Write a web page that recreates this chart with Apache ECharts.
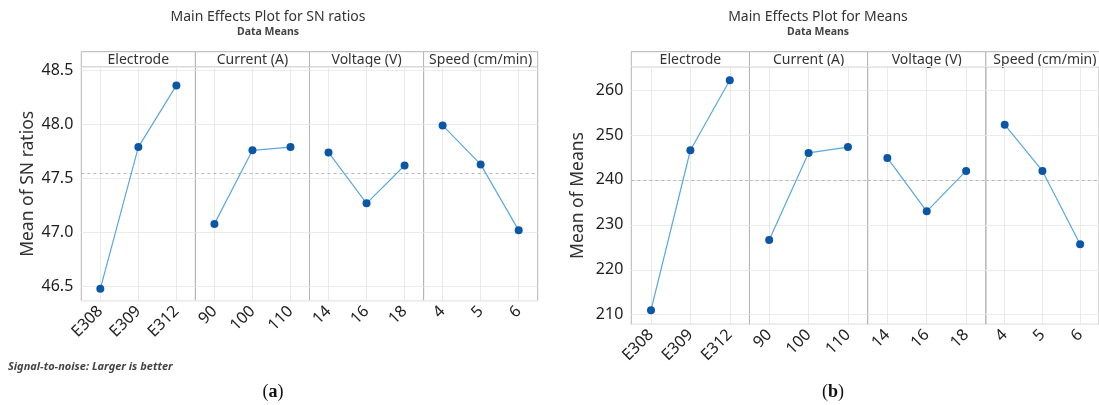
<!DOCTYPE html>
<html><head><meta charset="utf-8">
<script src="https://cdn.jsdelivr.net/npm/echarts@6/dist/echarts.min.js"></script>
<style>html,body{margin:0;padding:0;background:#fff}#c{width:1099px;height:405px}</style>
</head><body><div id="c"></div>
<script>
// ---- data ----
const factors = ['Electrode', 'Current (A)', 'Voltage (V)', 'Speed (cm/min)'];
const electrodeLevels = ['E308', 'E309', 'E312'];
const currentLevels = ['90', '100', '110'];
const voltageLevels = ['14', '16', '18'];
const speedLevels = ['4', '5', '6'];

const snElectrode = [46.48, 47.79, 48.36];
const snCurrent = [47.08, 47.76, 47.79];
const snVoltage = [47.74, 47.27, 47.62];
const snSpeed = [47.99, 47.63, 47.02];
const snGrandMean = 47.545;

const meanElectrode = [211.0, 246.6, 262.2];
const meanCurrent = [226.6, 246.0, 247.3];
const meanVoltage = [244.9, 233.0, 242.0];
const meanSpeed = [252.3, 242.0, 225.7];
const meansGrandMean = 240.0;

const snTickStep = 0.5;
const meansTickStep = 10;

// ---- layout ----
const FONT = '"Noto Sans", "Open Sans", sans-serif';
const levels = [electrodeLevels, currentLevels, voltageLevels, speedLevels];
const charts = [
  { x0: 81.3, x1: 537.7, top: 67, bottom: 300.7, min: 46.37, max: 48.53,
    values: [snElectrode, snCurrent, snVoltage, snSpeed], mean: snGrandMean,
    step: snTickStep, dec: 1, yName: 'Mean of SN ratios', nameGap: 44,
    title: 'Main Effects Plot for SN ratios', titleX: 268 },
  { x0: 631.3, x1: 1104, top: 66.7, bottom: 324.3, min: 207.86, max: 265.2,
    values: [meanElectrode, meanCurrent, meanVoltage, meanSpeed], mean: meansGrandMean,
    step: meansTickStep, dec: 0, yName: 'Mean of Means', nameGap: 44,
    title: 'Main Effects Plot for Means', titleX: 818 }
];
const headerTop = 51.7;

const grid = [], xAxis = [], yAxis = [], series = [], graphic = [];

charts.forEach((ch, c) => {
  const w = (ch.x1 - ch.x0) / 4;
  graphic.push({ type: 'text', style: { text: ch.title, x: ch.titleX, y: 17, align: 'center', verticalAlign: 'middle', font: '14px ' + FONT, fill: '#333' } });
  graphic.push({ type: 'text', style: { text: 'Data Means', x: ch.titleX, y: 32, align: 'center', verticalAlign: 'middle', font: 'bold 10.5px ' + FONT, fill: '#444' } });
  for (let p = 0; p < 4; p++) {
    const g = c * 4 + p;
    const left = ch.x0 + p * w;
    grid.push({ left: left, top: ch.top, width: w, height: ch.bottom - ch.top, show: true, borderColor: '#b4b4b4', borderWidth: 1, containLabel: false });
    graphic.push({ type: 'rect', shape: { x: left, y: headerTop, width: w, height: ch.top - headerTop }, style: { fill: '#fff', stroke: '#b4b4b4', lineWidth: 1 } });
    graphic.push({ type: 'text', style: { text: factors[p], x: left + w / 2, y: (headerTop + ch.top) / 2 + 0.5, align: 'center', verticalAlign: 'middle', font: '14px ' + FONT, fill: '#333' } });
    xAxis.push({ gridIndex: g, type: 'category', data: levels[p], boundaryGap: true,
      axisLine: { show: false }, axisTick: { show: false }, splitLine: { show: false },
      axisLabel: { interval: 0, rotate: 45, fontSize: 16, color: '#222', margin: 8, fontFamily: FONT } });
    const step = ch.step, dec = ch.dec;
    yAxis.push({ gridIndex: g, type: 'value', min: ch.min, max: ch.max, splitNumber: 5,
      axisLine: { show: false }, axisTick: { show: false },
      splitLine: { show: true, lineStyle: { color: '#ebebeb', width: 1 } },
      axisLabel: { show: p === 0, fontSize: 16, color: '#1e1e1e', margin: 8, fontFamily: FONT,
        formatter: v => (Math.abs(v / step - Math.round(v / step)) < 1e-6 ? v.toFixed(dec) : '') },
      name: p === 0 ? ch.yName : '', nameLocation: 'middle', nameGap: ch.nameGap, nameRotate: 90,
      nameTextStyle: { fontSize: 17.5, color: '#333', fontFamily: FONT } });
    const vals = ch.values[p];
    series.push({ type: 'line', xAxisIndex: g, yAxisIndex: g, data: vals, z: 1, silent: true,
      symbol: 'none', lineStyle: { opacity: 0 },
      markLine: { z: 1, silent: true, symbol: ['none', 'none'], label: { show: false }, animation: false,
        data: levels[p].map(l => ({ xAxis: l, lineStyle: { color: '#e9e9e9', type: 'solid', width: 1 } }))
          .concat([{ yAxis: ch.mean, lineStyle: { color: '#b9b9b9', type: [3, 3], width: 1 } }]) } });
    series.push({ type: 'line', xAxisIndex: g, yAxisIndex: g, data: vals, z: 10,
      symbol: 'circle', symbolSize: 8,
      itemStyle: { color: '#0b57a6', borderWidth: 0 },
      lineStyle: { color: '#5aa8df', width: 1.2 } });
  }
});

graphic.push({ type: 'text', style: { text: 'Signal-to-noise: Larger is better', x: 8, y: 367, align: 'left', verticalAlign: 'middle', font: 'italic bold 11px ' + FONT, fill: '#444' } });
graphic.push({ type: 'text', style: { text: '({b|a})', x: 273, y: 392, align: 'center', verticalAlign: 'middle', font: '18px "Liberation Serif", serif', fill: '#111', rich: { b: { fontWeight: 'bold', fontSize: 18, fontFamily: '"Liberation Serif", serif' } } } });
graphic.push({ type: 'text', style: { text: '({b|b})', x: 833, y: 392, align: 'center', verticalAlign: 'middle', font: '18px "Liberation Serif", serif', fill: '#111', rich: { b: { fontWeight: 'bold', fontSize: 18, fontFamily: '"Liberation Serif", serif' } } } });

const chart = echarts.init(document.getElementById('c'), null, { renderer: 'canvas' });
chart.setOption({ animation: false, backgroundColor: '#fff', grid, xAxis, yAxis, series, graphic });
</script></body></html>
